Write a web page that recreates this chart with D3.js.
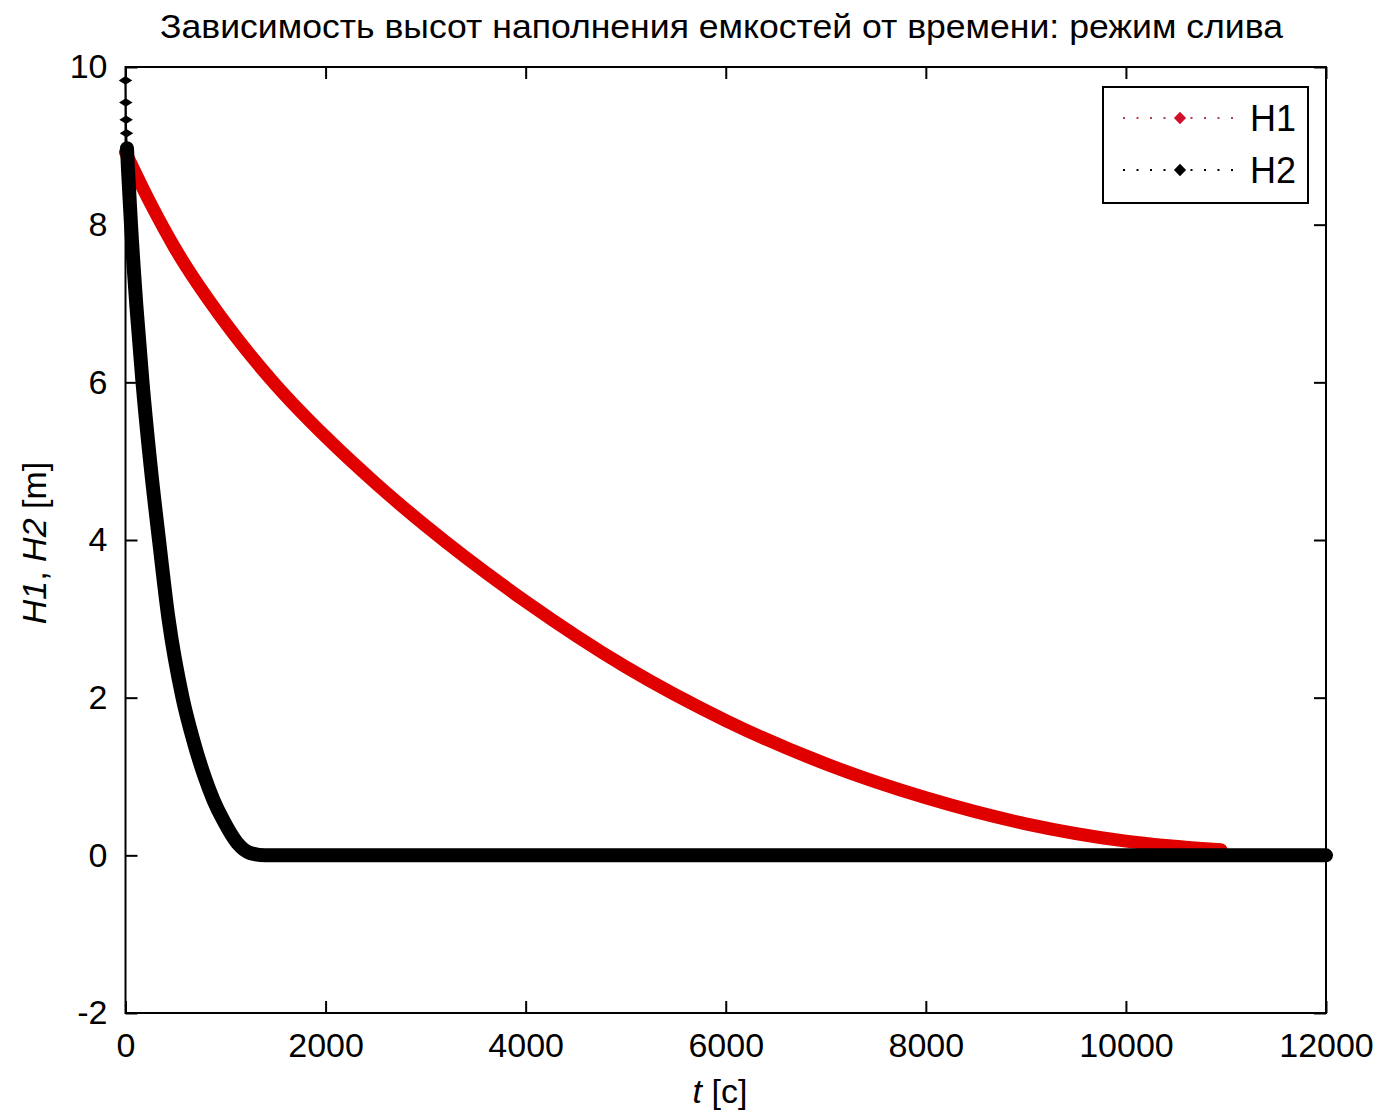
<!DOCTYPE html>
<html><head><meta charset="utf-8">
<script src="https://cdn.jsdelivr.net/npm/d3@7"></script>
<style>body{margin:0;background:#fff}</style>
</head><body><svg id="c" width="1383" height="1114"></svg>
<script>
const title = "Зависимость высот наполнения емкостей от времени: режим слива";
const xLabel = "t [c]";
const xTicks = [0, 2000, 4000, 6000, 8000, 10000, 12000];
const yTicks = [-2, 0, 2, 4, 6, 8, 10];
const seriesNames = ["H1", "H2"];
// H1 (upper tank)
const h1T = [0, 250, 500, 1000, 1500, 2000, 2500, 3000, 4000, 5000, 6000, 7000, 8000, 9000, 10000, 10950];
const h1V = [8.92, 8.27, 7.69, 6.75, 5.97, 5.31, 4.72, 4.18, 3.22, 2.39, 1.71, 1.16, 0.73, 0.40, 0.18, 0.07];
// H2 (lower tank)
const h2T = [0, 3, 6, 10, 15, 25, 55, 110, 170, 250, 335, 430, 570, 680, 790, 880, 975, 1115, 1245, 1400, 12000];
const h2V = [9.83, 9.55, 9.33, 9.16, 8.97, 8.7, 8.0, 6.95, 6.0, 4.95, 4.0, 3.0, 2.0, 1.45, 1.0, 0.7, 0.45, 0.16, 0.03, 0, 0];

const font = "'Liberation Sans', Arial, Helvetica, sans-serif";
const svg = d3.select("#c");
const x = d3.scaleLinear().domain([0, 12000]).range([125.5, 1326]);
const y = d3.scaleLinear().domain([-2, 10]).range([1013, 67]);

svg.append("rect").attr("width", 1383).attr("height", 1114).attr("fill", "#fff");

const h1 = h1T.map((t, i) => ({t, v: h1V[i]}));
const h2 = h2T.map((t, i) => ({t, v: h2V[i]}));
const line = d3.line().x(d => x(d.t)).y(d => y(d.v)).curve(d3.curveMonotoneX);
const diamond = d3.symbol().type(d3.symbolDiamond).size(70);

function drawSeries(data, color, bandW, bandStart) {
  const g = svg.append("g");
  g.append("path").attr("d", line(data)).attr("fill", "none")
    .attr("stroke", color).attr("stroke-width", 1.5);
  g.append("path").attr("d", line(data.slice(bandStart))).attr("fill", "none")
    .attr("stroke", color).attr("stroke-width", bandW)
    .attr("stroke-linecap", "round").attr("stroke-linejoin", "round");
  g.selectAll("path.m").data(data).join("path").attr("class", "m")
    .attr("d", diamond)
    .attr("transform", d => `translate(${x(d.t)},${y(d.v)}) scale(1.5,0.55)`)
    .attr("fill", color);
}
drawSeries(h1, "#e00000", 13, 0);
drawSeries(h2, "#000", 14, 4);

// axes
const fmt = d => String(d);
const gB = svg.append("g").attr("transform", `translate(0,${y(-2)})`)
  .call(d3.axisBottom(x).tickValues(xTicks).tickSize(-12).tickPadding(20).tickFormat(fmt));
const gT = svg.append("g").attr("transform", `translate(0,${y(10)})`)
  .call(d3.axisTop(x).tickValues(xTicks).tickSize(-12).tickFormat(""));
const gL = svg.append("g").attr("transform", `translate(${x(0)},0)`)
  .call(d3.axisLeft(y).tickValues(yTicks).tickSize(-12).tickPadding(18).tickFormat(fmt));
const gR = svg.append("g").attr("transform", `translate(${x(12000)},0)`)
  .call(d3.axisRight(y).tickValues(yTicks).tickSize(-12).tickFormat(""));
[gB, gT, gL, gR].forEach(g => {
  g.select(".domain").remove();
  g.selectAll(".tick line").attr("stroke", "#000").attr("stroke-width", 2);
  g.selectAll("text").attr("font-family", font).attr("font-size", 34).attr("fill", "#000");
});
svg.append("rect").attr("x", x(0)).attr("y", y(10))
  .attr("width", x(12000) - x(0)).attr("height", y(-2) - y(10))
  .attr("fill", "none").attr("stroke", "#000").attr("stroke-width", 2);

// title
svg.append("text").attr("x", 160).attr("y", 38).attr("textLength", 1123)
  .attr("lengthAdjust", "spacingAndGlyphs")
  .attr("font-family", font).attr("font-size", 34).attr("fill", "#000").text(title);

// x label
const xl = svg.append("text").attr("x", 720).attr("y", 1103).attr("text-anchor", "middle")
  .attr("font-family", font).attr("font-size", 34).attr("fill", "#000");
xl.append("tspan").attr("font-style", "italic").text("t");
xl.append("tspan").text(" [c]");

// y label
const yl = svg.append("text").attr("transform", "translate(46,543) rotate(-90)")
  .attr("text-anchor", "middle").attr("font-family", font).attr("font-size", 34).attr("fill", "#000");
yl.append("tspan").attr("font-style", "italic").text("H1");
yl.append("tspan").text(", ");
yl.append("tspan").attr("font-style", "italic").text("H2");
yl.append("tspan").text(" [m]");

// legend
const leg = svg.append("g");
leg.append("rect").attr("x", 1103).attr("y", 87).attr("width", 205).attr("height", 116)
  .attr("fill", "#fff").attr("stroke", "#000").attr("stroke-width", 2);
const legColors = ["#d0102a", "#000"];
seriesNames.forEach((name, i) => {
  const cy = 118 + i * 52;
  leg.append("line").attr("x1", 1123).attr("x2", 1237).attr("y1", cy).attr("y2", cy)
    .attr("stroke", i === 0 ? "#b04050" : "#000").attr("stroke-width", 2)
    .attr("stroke-dasharray", "2,11.5");
  leg.append("path").attr("d", diamond)
    .attr("transform", `translate(1180,${cy}) scale(1.35,0.8)`).attr("fill", legColors[i]);
  leg.append("text").attr("x", 1250).attr("y", cy + 13)
    .attr("font-family", font).attr("font-size", 36).attr("fill", "#000").text(name);
});
</script></body></html>
